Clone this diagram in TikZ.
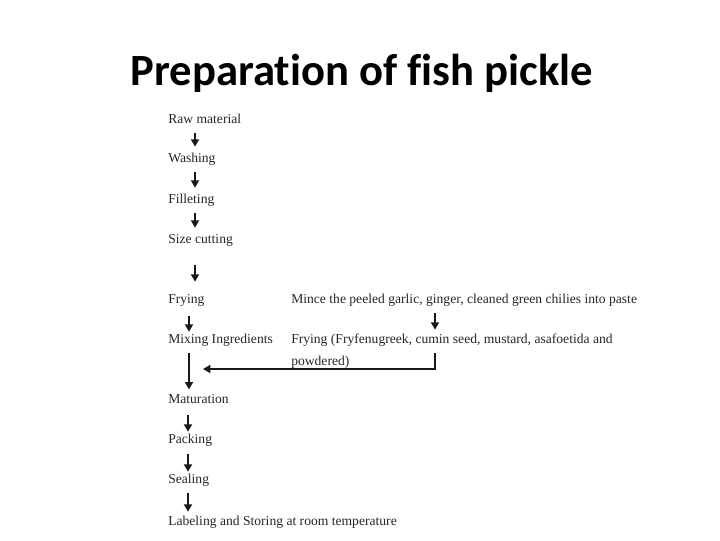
\documentclass[tikz,border=0pt]{standalone}
\usepackage{fontspec}
\setmainfont{Liberation Serif}
\newfontfamily\titlefont{Carlito}[Ligatures=NoCommon]
\usetikzlibrary{arrows.meta}

\begin{document}
\begin{tikzpicture}[x=0.75pt,y=-0.75pt,
    stage/.style={anchor=base west,inner sep=0pt,text height=7pt,text depth=2pt,
        font=\fontsize{10.2}{12}\selectfont,text=black!85},
    flow/.style={-{Triangle[length=5.5pt,width=6pt]},line width=1.3pt,black!90,
        shorten <=5pt,shorten >=3pt}]
    \useasboundingbox (0,0) rectangle (720,540);

    \node at (362,85) [anchor=base,inner sep=0pt,font=\titlefont\bfseries\fontsize{33.5}{40}\selectfont] (title) {Preparation of fish pickle};

    % main line
    \node at (168,123) [stage] (raw) {Raw material};
    \node at (168,162) [stage] (wash) {Washing};
    \node at (168,203) [stage] (fillet) {Filleting};
    \node at (168,243) [stage] (size) {Size cutting};
    \node at (168,303) [stage] (fry) {Frying};
    \node at (168,343) [stage] (mix) {Mixing Ingredients};
    \node at (168,403) [stage] (mat) {Maturation};
    \node at (168,443) [stage] (pack) {Packing};
    \node at (168,483) [stage] (seal) {Sealing};
    \node at (168,525) [stage] (label) {Labeling and Storing at room temperature};

    % side line
    \node at (291,303) [stage] (mince) {Mince the peeled garlic, ginger, cleaned green chilies into paste};
    \node at (291,343) [stage] (spice) {Frying (Fryfenugreek, cumin seed, mustard, asafoetida and};
    \node at (291,365) [stage] (powd) {powdered)};
    \coordinate (mixin) at (203,369);

    \draw[flow,shorten >=4.3pt] ([xshift=20.25pt]raw.south west) -- ([xshift=20.25pt]wash.north west);
    \draw[flow,shorten >=4.3pt] ([xshift=20.25pt]wash.south west) -- ([xshift=20.25pt]fillet.north west);
    \draw[flow,shorten >=4.3pt] ([xshift=20.25pt]fillet.south west) -- ([xshift=20.25pt]size.north west);
    \draw[flow,shorten <=14.25pt,shorten >=8.8pt] ([xshift=20.25pt]size.south west) -- ([xshift=20.25pt]fry.north west);
    \draw[flow,shorten <=7.5pt,shorten >=1.3pt] ([xshift=15.75pt]fry.south west) -- ([xshift=15.75pt]mix.north west);
    \draw[flow] ([xshift=15.75pt]mix.south west) -- ([xshift=15.75pt]mat.north west);
    \draw[flow,shorten <=7pt,shorten >=1.3pt] ([xshift=15pt]mat.south west) -- ([xshift=15pt]pack.north west);
    \draw[flow,shorten <=6.2pt,shorten >=1.3pt] ([xshift=15pt]pack.south west) -- ([xshift=15pt]seal.north west);
    \draw[flow,shorten >=2.8pt] ([xshift=15pt]seal.south west) -- ([xshift=15pt]label.north west);

    \draw[flow,shorten <=5.5pt,shorten >=2.8pt] ([xshift=108pt]mince.south west) -- ([xshift=108pt]spice.north west);
    \draw[flow,shorten <=5.5pt,shorten >=0pt] ([xshift=108pt]spice.south west) |- (mixin);
\end{tikzpicture}
\end{document}
